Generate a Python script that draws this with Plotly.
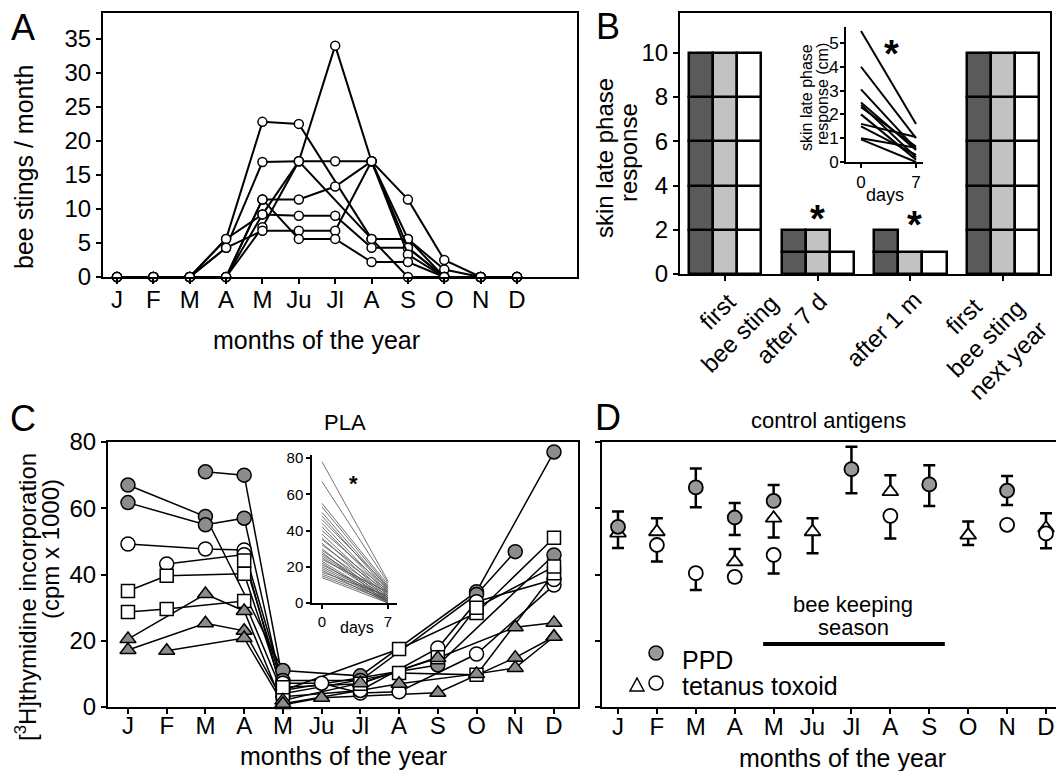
import plotly.graph_objects as go

W, H = 1056, 771
FONT = "Liberation Sans, Arial, sans-serif"

# ---------------- data ----------------
months = ["J", "F", "M", "A", "M", "Ju", "Jl", "A", "S", "O", "N", "D"]
month_pos = list(range(1, 13))

# Panel A: bee stings per month, one list per beekeeper
A_s1 = [0, 0, 0, 5.6, 22.8, 22.5, None, 5.6, 5.6, 0, 0, 0]
A_s2 = [0, 0, 0, 4.3, 16.9, 17, 17, 17, 11.4, 2.5, 0, 0]
A_s3 = [0, 0, 0, 0, 7.3, 17, 34, 17, 5.6, 1.1, 0, 0]
A_s4 = [0, 0, 0, 0, 11.4, 11.4, 13.3, 17, 4.3, 0, 0, 0]
A_s5 = [0, 0, 0, 5.6, 9.2, 9, 9, 4.3, 4.3, 0, 0, 0]
A_s6 = [0, 0, 0, 4.3, 6.8, 6.8, 6.8, 17, 3.3, 0, 0, 0]
A_s7 = [0, 0, 0, 0, 11.4, 5.6, 5.6, 2.2, 2.2, 0, 0, 0]
A_s8 = [0, 0, 0, 0, 9.2, 17, None, 5.6, 0, 0, 0, 0]

# Panel B: skin late phase response (stacked blocks)
B_groups = ["first<br>bee sting", "after 7 d", "after 1 m", "first<br>bee sting<br>next year"]
B_dark = [10, 2, 2, 10]
B_light = [10, 2, 1, 10]
B_white = [10, 1, 1, 10]
B_block = [2, 1, 1, 2]
B_stars = [None, 2.5, 2.2, None]

# Panel B inset: skin late phase response (cm), day 0 -> day 7
B_inset_days = [0, 7]
B_inset_day0 = [5.5, 4.0, 3.05, 2.5, 2.4, 2.3, 2.0, 1.6, 1.5, 1.0, 0.95]
B_inset_day7 = [1.6, 1.0, 0.55, 0.5, 0.2, 0.65, 0.1, 1.05, 0.3, 0.6, 0.0]

# Panel C: PLA [3H]thymidine incorporation (cpm x 1000)
C_g1 = [67, None, 57.5, None, 11, None, 9.4, None, None, 34.8, None, 77]
C_g2 = [61.7, None, 55, 57, 5, None, None, None, 12.7, None, None, 45.9]
C_g3 = [None, None, 71, 70, 8, None, 8, None, None, 34, 46.9, None]
C_o1 = [49.2, None, 47.7, 47.4, 7.2, 7.2, 4.2, 4.6, None, 16, None, 36.8]
C_o2 = [None, 43.2, None, 46, 3.1, None, 5, None, 17.8, 31.8, None, 38.5]
C_s1 = [35, 39.6, None, 40.2, 5, None, None, 17.5, None, 28.4, None, 51.1]
C_s2 = [28.7, 29.6, None, 32, 4, None, None, 10.3, None, 9.7, None, 40.4]
C_s3 = [None, None, None, 44.2, 6, None, 7, None, 15, 30, None, 42.4]
C_t1 = [20.5, None, 34.1, 29, 0.6, 2.8, None, None, 4.3, None, 14.9, 21.2]
C_t2 = [17.2, None, 25.3, 23, 2, None, 7.2, None, 14.8, None, 24.1, 25.4]
C_t3 = [None, 17, None, 20.8, 1, None, None, 7, None, 10, 11.8, 21.2]

# Panel C inset: day 0 -> day 7
C_inset_days = [0, 7]
C_inset_day0 = [78, 67, 55, 53, 50, 48, 46, 44, 42, 40, 38, 36, 35, 33, 32, 30,
                29, 28, 27, 26, 25, 24, 23, 22, 21, 20, 19, 18, 17, 16, 15, 14]
C_inset_day7 = [12, 11, 10, 9, 8, 7, 9, 6, 5, 8, 4, 3, 7, 2, 6, 1,
                5, 0, 4, 3, 2, 6, 1, 0, 3, 2, 1, 0, 4, 2, 1, 0]

# Panel D: control antigens (mean, error up, error down)
D_ppd = [54.4, None, 66.3, 57.2, 62.2, None, 71.8, None, 67.2, None, 65.3, None]
D_ppd_up = [4.6, 0, 5.7, 4.4, 4.8, 0, 6.8, 0, 5.8, 0, 4.4, 0]
D_ppd_dn = [0, 0, 6.0, 5.3, 0, 0, 7.3, 0, 6.5, 0, 4.3, 0]
D_tri = [52.5, 52.9, None, 43.8, 57, 52.9, None, 65, None, 51.9, None, 54]
D_tri_up = [0, 4.1, 0, 3.9, 0, 4.1, 0, 5, 0, 4.1, 0, 4.5]
D_tri_dn = [4.5, 0, 0, 0, 5.8, 6.5, 0, 0, 0, 3.0, 0, 0]
D_circ = [None, 48.9, 40.4, 39.3, 45.9, None, None, 57.7, None, None, 55, 52.4]
D_circ_up = [0, 0, 0, 0, 0, 0, 0, 0, 0, 0, 0, 0]
D_circ_dn = [0, 5.0, 5.1, 1.5, 5.6, 0, 0, 6.8, 0, 0, 0, 4.5]
season_start, season_end, season_level = 4.73, 9.4, 19

# ---------------- helpers ----------------
def px(x):
    return x / W

def py(y):
    return 1 - y / H

GRAY = "#8c8c8c"

fig = go.Figure()

# Panel A
for s in [A_s1, A_s2, A_s3, A_s4, A_s5, A_s6, A_s7, A_s8]:
    fig.add_trace(go.Scatter(
        x=month_pos, y=s, mode="lines+markers", connectgaps=True,
        line=dict(color="black", width=2),
        marker=dict(symbol="circle", size=9, color="white", line=dict(color="black", width=1.5)),
        xaxis="x", yaxis="y", cliponaxis=False, showlegend=False, hoverinfo="skip"))

# Panel B bars
bw = 0.26
for vals, off, col in [(B_dark, -bw, "#5a5a5a"), (B_light, 0, "#c2c2c2"), (B_white, bw, "white")]:
    xs, ys, bases = [], [], []
    for g, (v, blk) in enumerate(zip(vals, B_block)):
        k = 0
        while k * blk < v:
            xs.append(g + off)
            ys.append(blk)
            bases.append(k * blk)
            k += 1
    fig.add_trace(go.Bar(
        x=xs, y=ys, base=bases, width=bw,
        marker=dict(color=col, line=dict(color="black", width=2.5)),
        xaxis="x2", yaxis="y2", showlegend=False, hoverinfo="skip"))

# Panel B inset
bx, byy = [], []
for a, b in zip(B_inset_day0, B_inset_day7):
    bx += [B_inset_days[0], B_inset_days[1], None]
    byy += [a, b, None]
fig.add_trace(go.Scatter(x=bx, y=byy, mode="lines", line=dict(color="black", width=2),
                         xaxis="x3", yaxis="y3", showlegend=False, hoverinfo="skip"))

# Panel C
c_series = [
    (C_g1, "circle", GRAY), (C_g2, "circle", GRAY), (C_g3, "circle", GRAY),
    (C_o1, "circle", "white"), (C_o2, "circle", "white"),
    (C_s1, "square", "white"), (C_s2, "square", "white"), (C_s3, "square", "white"),
    (C_t1, "triangle-up", GRAY), (C_t2, "triangle-up", GRAY), (C_t3, "triangle-up", GRAY),
]
for s, sym, col in c_series:
    fig.add_trace(go.Scatter(
        x=month_pos, y=s, mode="lines", connectgaps=True,
        line=dict(color="black", width=1.5),
        xaxis="x4", yaxis="y4", cliponaxis=False, showlegend=False, hoverinfo="skip"))
for s, sym, col in c_series:
    fig.add_trace(go.Scatter(
        x=month_pos, y=s, mode="markers",
        marker=dict(symbol=sym, size=14 if sym != "square" else 13, color=col,
                    line=dict(color="black", width=1.5)),
        xaxis="x4", yaxis="y4", cliponaxis=False, showlegend=False, hoverinfo="skip"))

# Panel C inset
cx, cy = [], []
for a, b in zip(C_inset_day0, C_inset_day7):
    cx += [C_inset_days[0], C_inset_days[1], None]
    cy += [a, b, None]
fig.add_trace(go.Scatter(x=cx, y=cy, mode="lines", line=dict(color="#505050", width=0.8),
                         xaxis="x5", yaxis="y5", showlegend=False, hoverinfo="skip"))

# Panel D
for vals, up, dn, sym, col in [
    (D_tri, D_tri_up, D_tri_dn, "triangle-up", "white"),
    (D_circ, D_circ_up, D_circ_dn, "circle", "white"),
    (D_ppd, D_ppd_up, D_ppd_dn, "circle", "#999999"),
]:
    fig.add_trace(go.Scatter(
        x=month_pos, y=vals, mode="markers",
        error_y=dict(type="data", symmetric=False, array=up, arrayminus=dn,
                     color="black", thickness=2.5, width=6),
        marker=dict(symbol=sym, size=14, color=col, line=dict(color="black", width=1.8)),
        xaxis="x6", yaxis="y6", cliponaxis=False, showlegend=False, hoverinfo="skip"))

# ---------------- axes ----------------
tickfont = dict(family=FONT, size=24, color="black")
def box_axis(**kw):
    d = dict(showline=True, linecolor="black", linewidth=2, mirror=True,
             ticks="outside", ticklen=5, tickwidth=2, tickcolor="black",
             showgrid=False, zeroline=False, tickfont=tickfont, automargin=False)
    d.update(kw)
    return d

small18 = dict(family=FONT, size=17, color="black")
small16 = dict(family=FONT, size=15, color="black")

layout = dict(
    width=W, height=H, autosize=False,
    margin=dict(l=0, r=0, t=0, b=0, pad=0),
    paper_bgcolor="white", plot_bgcolor="rgba(0,0,0,0)",
    font=dict(family=FONT, color="black"),
    barmode="overlay", bargap=0,
    xaxis=box_axis(domain=[px(103), px(577)], range=[0.615, 13.65],
                   tickvals=month_pos, ticktext=months, ticklabelstandoff=-5, anchor="y"),
    yaxis=box_axis(domain=[py(277), py(13)], range=[0, 38.8],
                   tickvals=[0, 5, 10, 15, 20, 25, 30, 35], anchor="x"),
    xaxis2=box_axis(domain=[px(680), px(1050)], range=[-0.486, 3.507],
                    tickvals=[0, 1, 2, 3], showticklabels=False, anchor="y2"),
    yaxis2=box_axis(domain=[py(274), py(13)], range=[0, 11.8],
                    tickvals=[0, 2, 4, 6, 8, 10], anchor="x2"),
    xaxis3=box_axis(domain=[px(846), px(923)], range=[-1.91, 7.89], mirror=False,
                    tickvals=[0, 7], ticktext=["0", "7"], ticklen=4,
                    tickfont=small18, anchor="y3"),
    yaxis3=box_axis(domain=[py(162), py(27)], range=[0, 5.67], mirror=False,
                    tickvals=[0, 1, 2, 3, 4, 5], ticklen=4, ticklabelstandoff=-2,
                    tickfont=small18, anchor="x3"),
    xaxis4=box_axis(domain=[px(108), px(578)], range=[0.484, 12.62],
                    tickvals=month_pos, ticktext=months, ticklabelstandoff=-9, anchor="y4"),
    yaxis4=box_axis(domain=[py(707), py(442)], range=[0, 80],
                    tickvals=[0, 20, 40, 60, 80], anchor="x4"),
    xaxis5=box_axis(domain=[px(312), px(397)], range=[-1.06, 7.95], mirror=False,
                    tickvals=[0, 7], ticktext=["0", "7"], ticklen=4, linewidth=1.5,
                    tickfont=small16, anchor="y5"),
    yaxis5=box_axis(domain=[py(603), py(455)], range=[0, 81.7], mirror=False,
                    tickvals=[0, 20, 40, 60, 80], ticklen=4, linewidth=1.5,
                    tickfont=small16, anchor="x5"),
    xaxis6=box_axis(domain=[px(602), 1.0], range=[0.589, 12.257],
                    tickvals=month_pos, ticktext=months, ticklabelstandoff=-8, anchor="y6"),
    yaxis6=box_axis(domain=[py(707), py(442)], range=[0, 80], mirror=False,
                    tickvals=[0, 20, 40, 60, 80], showticklabels=False, anchor="x6"),
)

ann = []
def text(x, y, t, size=24, angle=0, xanchor="center", yanchor="middle", xref="paper", yref="paper"):
    ann.append(dict(x=x, y=y, xref=xref, yref=yref, text=t, showarrow=False,
                    font=dict(family=FONT, size=size, color="black"),
                    textangle=angle, xanchor=xanchor, yanchor=yanchor))

# panel letters
text(px(23), py(28), "A", 36)
text(px(608), py(27), "B", 36)
text(px(23), py(419), "C", 36)
text(px(608), py(417), "D", 36)
# axis titles
text(px(24), py(167), "bee stings / month", 25, -90)
text(px(316), py(340), "months of the year", 25)
text(px(605), py(158), "skin late phase", 24, -90)
text(px(629), py(153), "response", 24, -90)
text(px(806), py(98), "skin late phase", 16, -90)
text(px(822), py(94), "response (cm)", 16, -90)
text(px(885), py(195), "days", 18)
text(px(26), py(597), "[<sup>3</sup>H]thymidine incorporation", 24, -90)
text(px(50), py(549), "(cpm x 1000)", 24, -90)
text(px(345), py(422), "PLA", 22)
text(px(343), py(756), "months of the year", 25)
text(px(357), py(627), "days", 16)
text(px(828), py(421), "control antigens", 22)
text(px(842), py(758), "months of the year", 25)
# rotated category labels of panel B
B_label_centers = [(728, 323), (791, 328), (883, 329), (985, 338)]
for lab, (cx_, cy_) in zip(B_groups, B_label_centers):
    text(px(cx_), py(cy_), lab, 24, -45)
# asterisks
for g, v in enumerate(B_stars):
    if v is not None:
        text(g + (0 if g == 1 else 0.05), v, "<b>*</b>", 38, xref="x2", yref="y2")
text(3.9, 4.55, "<b>*</b>", 38, xref="x3", yref="y3")
text(3.3, 66, "<b>*</b>", 22, xref="x5", yref="y5")
# season
text(px(853), py(604), "bee keeping", 22)
text(px(853), py(627), "season", 22)
# legend text
text(px(680), py(660), "PPD", 25, xanchor="left")
text(px(680), py(686), "tetanus toxoid", 25, xanchor="left")
layout["annotations"] = ann

shapes = [
    dict(type="line", xref="x6", yref="y6", x0=season_start, x1=season_end,
         y0=season_level, y1=season_level, line=dict(color="black", width=4)),
    # legend keys
    dict(type="circle", xref="paper", yref="paper", x0=px(649), x1=px(663), y0=py(660), y1=py(646),
         fillcolor="#999999", line=dict(color="black", width=1.5)),
    dict(type="path", xref="paper", yref="paper",
         path=f"M {px(630)},{py(691)} L {px(644)},{py(691)} L {px(637)},{py(678)} Z",
         fillcolor="white", line=dict(color="black", width=1.5)),
    dict(type="circle", xref="paper", yref="paper", x0=px(649), x1=px(663), y0=py(690), y1=py(676),
         fillcolor="white", line=dict(color="black", width=1.5)),
]
layout["shapes"] = shapes

fig.update_layout(**layout)
fig.write_html("out.html", config={"displayModeBar": False},
               post_script="document.body.style.margin='0';document.body.style.overflow='hidden';")
